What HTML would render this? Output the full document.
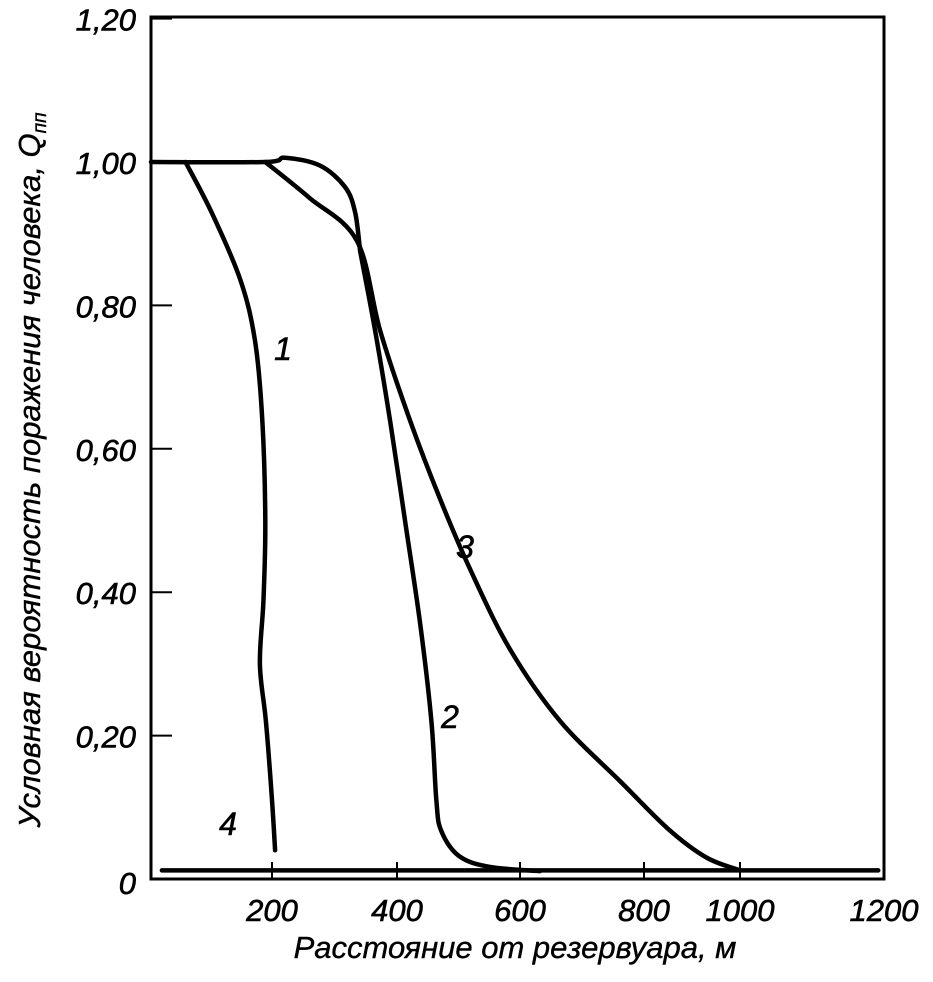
<!DOCTYPE html>
<html><head><meta charset="utf-8"><style>
body{margin:0;background:#fff}
svg text{font-family:"Liberation Sans",sans-serif;font-style:italic;fill:#000}
</style></head><body>
<svg width="933" height="977" viewBox="0 0 933 977" xmlns="http://www.w3.org/2000/svg">
</svg>
<script>
const xTicks=[200,400,600,800,1000,1200];
const xTickLabels=["200","400","600","800","1000","1200"];
const yTicks=[0.2,0.4,0.6,0.8,1.0,1.2];
const yTickLabels=["0,20","0,40","0,60","0,80","1,00","1,20"];
const curve1=[[57,1],[100,0.93],[148,0.835],[172,0.75],[184,0.64],[189,0.5],[186,0.39],[180,0.3],[190,0.22],[200,0.11],[205,0.04]];
const curve2a=[[0,1],[189,1],[221,1.006],[277,0.995],[317,0.965],[333,0.93],[341,0.876]];
const curve2b=[[341,0.876],[365,0.765],[389,0.639],[413,0.5],[437,0.36],[456,0.22],[464,0.109],[472,0.067],[501,0.032],[550,0.017],[632,0.011]];
const curve3=[[189,1],[260,0.95],[336,0.89],[373,0.765],[421,0.64],[470,0.53],[520,0.43],[584,0.32],[665,0.22],[762,0.136],[850,0.07],[930,0.03],[1000,0.012]];
const curve4=[[18,0.012],[1192,0.012]];
const NS="http://www.w3.org/2000/svg";
const svg=document.querySelector('svg');
const xv=[0,200,400,600,800,1000,1200], xp=[151,272,397,520,644,740,884];
function X(v){for(let i=0;i<xv.length-1;i++){if(v<=xv[i+1]||i==xv.length-2){return xp[i]+(v-xv[i])*(xp[i+1]-xp[i])/(xv[i+1]-xv[i]);}}}
function Y(v){return 879-v*717;}
function el(t,a,p){const e=document.createElementNS(NS,t);for(const k in a)e.setAttribute(k,a[k]);(p||svg).appendChild(e);return e;}
const fr=el('rect',{x:151,y:17,width:733,height:862,fill:'none',stroke:'#000','stroke-width':3});


xTicks.forEach((v,i)=>{
  if(v<1200){const t=el('line',{x1:X(v),x2:X(v),y1:879,y2:862,stroke:'#000','stroke-width':2});
  
  }
  const l=el('text',{x:X(v),y:921,'text-anchor':'middle','font-size':31,'stroke':'#000','stroke-width':0.6});
  l.textContent=xTickLabels[i];
  
  
});
yTicks.forEach((v,i)=>{
  const t=el('line',{x1:151,x2:172,y1:Y(v),y2:Y(v),stroke:'#000','stroke-width':2});
  
  
  const l=el('text',{x:136,y:Y(v)+12,'text-anchor':'end','font-size':31,'stroke':'#000','stroke-width':0.6});
  l.textContent=yTickLabels[i];
  
  
});
const z=el('text',{x:136,y:894,'text-anchor':'end','font-size':31,'stroke':'#000','stroke-width':0.6});z.textContent="0";


function draw(d,name){
  const P=d.map(q=>[X(q[0]),Y(q[1])]);
  let s='M'+P[0][0].toFixed(1)+','+P[0][1].toFixed(1);
  for(let i=0;i<P.length-1;i++){
    const p0=P[i-1]||P[i],p1=P[i],p2=P[i+1],p3=P[i+2]||p2;
    const c1=[p1[0]+(p2[0]-p0[0])/6,p1[1]+(p2[1]-p0[1])/6];
    const c2=[p2[0]-(p3[0]-p1[0])/6,p2[1]-(p3[1]-p1[1])/6];
    s+=' C'+c1.map(n=>n.toFixed(1))+' '+c2.map(n=>n.toFixed(1))+' '+p2.map(n=>n.toFixed(1));
  }
  const e=el('path',{d:s,fill:'none',stroke:'#000','stroke-width':4.5,'stroke-linejoin':'round','stroke-linecap':'round'});
  
  
}
draw(curve4,'curve-4');draw(curve1,'curve-1');draw(curve2a,'curve-2-top');draw(curve2b,'curve-2');draw(curve3,'curve-3');
[["1",283,360],["2",450,728],["3",465,558],["4",228,835]].forEach(a=>{
  const t=el('text',{x:a[1],y:a[2],'font-size':32,'text-anchor':'middle','stroke':'#000','stroke-width':0.6});t.textContent=a[0];
  
  
});
const xt=el('text',{x:515,y:958,'text-anchor':'middle','font-size':31,'stroke':'#000','stroke-width':0.4});xt.textContent="Расстояние от резервуара, м";


const yt=el('text',{x:0,y:0,'text-anchor':'middle','font-size':31,'stroke':'#000','stroke-width':0.4,transform:'translate(40,470) rotate(-90)'});
yt.innerHTML='Условная вероятность поражения человека, Q<tspan font-size="19" dy="6">пп</tspan>';


</script>
</body></html>
